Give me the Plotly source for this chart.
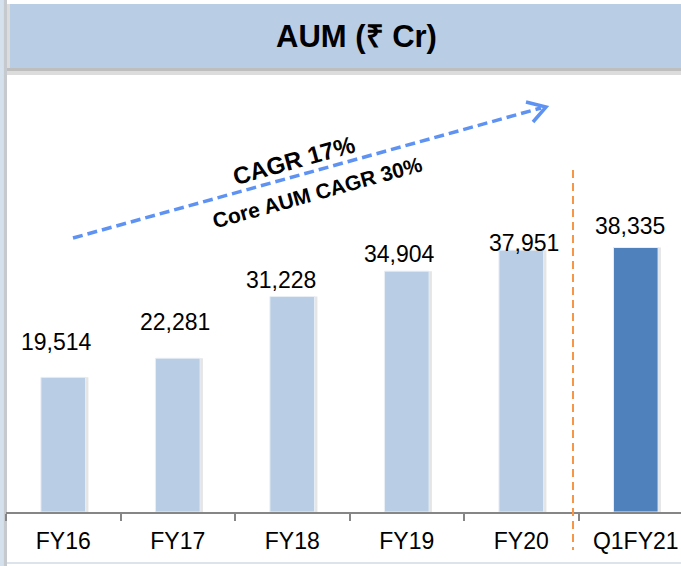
import plotly.graph_objects as go

# ---- data ----
categories = ["FY16", "FY17", "FY18", "FY19", "FY20", "Q1FY21"]
aum_values = [19514, 22281, 31228, 34904, 37951, 38335]
value_labels = ["19,514", "22,281", "31,228", "34,904", "37,951", "38,335"]
title_text = "AUM (₹ Cr)"
cagr_text = "CAGR 17%"
core_cagr_text = "Core AUM CAGR 30%"

# ---- styling ----
bar_colors = ["#B9CDE5"] * 5 + ["#4F81BD"]
label_dx = [-7, -3, -11, -7, 3, -6]      # pixel nudges of value labels
label_dy = [35, 36, 17, 17, 7, 22]
W, H = 681, 566
PL, PR, PT, PB = 6, 681, 76, 512          # plot area in pixels
FONT = "Arial, Liberation Sans, Helvetica, sans-serif"
BAR_W = 0.39


def px(x):
    return (x - PL) / (PR - PL)


def py(y):
    return (PB - y) / (PB - PT)


fig = go.Figure()
# soft shadow behind bars
fig.add_trace(go.Bar(
    x=categories, y=aum_values, width=BAR_W + 0.02, offset=-BAR_W / 2 + 0.005,
    marker=dict(color="rgba(0,0,0,0.10)", line_width=0), hoverinfo="skip",
))
fig.add_trace(go.Bar(
    x=categories, y=aum_values, width=BAR_W, offset=-BAR_W / 2,
    marker=dict(color=bar_colors, line=dict(color="#E8EEF6", width=1)),
    hoverinfo="x+y",
))

for c, v, t, dx, dy in zip(categories, aum_values, value_labels, label_dx, label_dy):
    fig.add_annotation(x=c, y=v, text=t, showarrow=False, xanchor="center",
                       yanchor="middle", xshift=dx, yshift=dy,
                       font=dict(family=FONT, size=23, color="#000000"))

shapes = []
# left strip and frame
shapes.append(dict(type="rect", xref="paper", yref="paper", x0=px(0), x1=px(3.5),
                   y0=py(0), y1=py(H), fillcolor="#D6E1EE", line_width=0, layer="below"))
shapes.append(dict(type="rect", xref="paper", yref="paper", x0=px(3.5), x1=px(7),
                   y0=py(0), y1=py(H), fillcolor="#C6C9CD", line_width=0, layer="below"))
# header shadow
shapes.append(dict(type="rect", xref="paper", yref="paper", x0=px(7), x1=px(W + 5),
                   y0=py(68), y1=py(71), fillcolor="#BEBEBE", line_width=0, layer="below"))
shapes.append(dict(type="rect", xref="paper", yref="paper", x0=px(7), x1=px(W + 5),
                   y0=py(71), y1=py(75), fillcolor="#DCDCDC", line_width=0, layer="below"))
shapes.append(dict(type="rect", xref="paper", yref="paper", x0=px(7), x1=px(10),
                   y0=py(4), y1=py(68), fillcolor="#DCDCDC", line_width=0, layer="below"))
# header
shapes.append(dict(type="rect", xref="paper", yref="paper", x0=px(10), x1=px(W + 5),
                   y0=py(4), y1=py(68), fillcolor="#B9CDE5", line_width=0, layer="below"))
# bottom light line
shapes.append(dict(type="rect", xref="paper", yref="paper", x0=px(7), x1=px(W + 5),
                   y0=py(562), y1=py(564), fillcolor="#DDE3EA", line_width=0, layer="below"))
# orange separator
shapes.append(dict(type="line", xref="paper", yref="paper", x0=px(573), x1=px(573),
                   y0=py(170), y1=py(550), line=dict(color="#F79646", width=2, dash="8px,5px")))
# CAGR arrow (dashed shaft + open head)
ARROW = "#5E93F3"
shapes.append(dict(type="line", xref="paper", yref="paper", x0=px(73), y0=py(238),
                   x1=px(541), y1=py(108), line=dict(color=ARROW, width=3.5, dash="10px,5px")))
shapes.append(dict(type="path", xref="paper", yref="paper",
                   path=f"M {px(526)} {py(102)} L {px(546)} {py(107)} L {px(533)} {py(122)}",
                   line=dict(color=ARROW, width=3.5)))

fig.add_annotation(xref="paper", yref="paper", x=px(356), y=py(36), text=f"<b>{title_text}</b>",
                   showarrow=False, xanchor="center", yanchor="middle",
                   font=dict(family=FONT, size=31, color="#000000"))
fig.add_annotation(xref="paper", yref="paper", x=px(293), y=py(160), text=f"<b>{cagr_text}</b>",
                   showarrow=False, xanchor="center", yanchor="middle", textangle=-15.5,
                   font=dict(family=FONT, size=24, color="#000000"))
fig.add_annotation(xref="paper", yref="paper", x=px(317), y=py(192), text=f"<b>{core_cagr_text}</b>",
                   showarrow=False, xanchor="center", yanchor="middle", textangle=-15.5,
                   font=dict(family=FONT, size=21, color="#000000"))

fig.update_layout(
    width=W, height=H,
    margin=dict(l=PL, r=W - PR, t=PT, b=H - PB, pad=0),
    paper_bgcolor="#FFFFFF", plot_bgcolor="rgba(0,0,0,0)",
    showlegend=False, shapes=shapes,
    barmode="overlay",
)
fig.update_xaxes(
    type="category", range=[-0.5, 5.395], showgrid=False, zeroline=False,
    showline=True, linecolor="#868686", linewidth=1.5,
    ticks="outside", tickson="boundaries", ticklen=7, tickcolor="#868686", tickwidth=1.5,
    tickfont=dict(family=FONT, size=23, color="#000000"), ticklabelstandoff=8,
)
fig.update_yaxes(range=[0, 63190], visible=False, showgrid=False, zeroline=False)

fig.write_html(
    "out.html",
    config={"displayModeBar": False},
    post_script="document.body.style.margin='0';document.body.style.overflow='hidden';",
)
